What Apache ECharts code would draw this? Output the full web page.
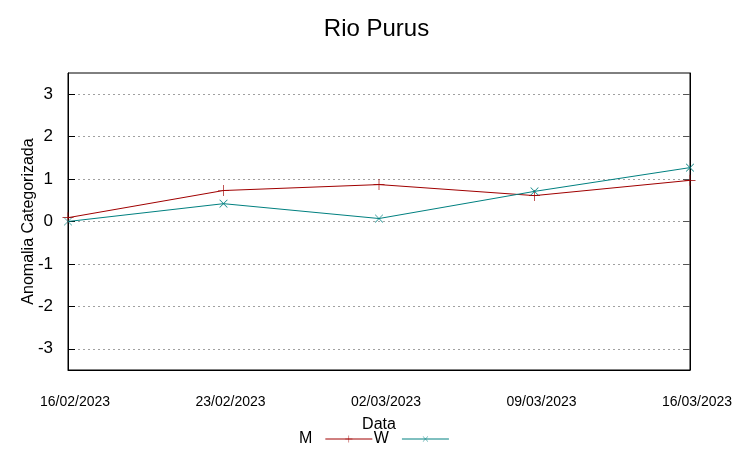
<!DOCTYPE html>
<html><head><meta charset="utf-8">
<script src="https://cdn.jsdelivr.net/npm/echarts@6/dist/echarts.min.js"></script>
<style>html,body{margin:0;padding:0;background:#fff}#c{width:753px;height:459px}</style>
</head><body><div id="c"></div>
<script>
const categories = ['16/02/2023','23/02/2023','02/03/2023','09/03/2023','16/03/2023'];
const seriesM = [0.09, 0.73, 0.87, 0.61, 0.97];
const seriesW = [0.0, 0.42, 0.07, 0.71, 1.27];
const yTicks = [-3,-2,-1,0,1,2,3];
const title = 'Rio Purus';
const xName = 'Data';
const yName = 'Anomalia Categorizada';

const plus = 'path://M-0.6,-10H0.6V10H-0.6Z M-10,-0.6H10V0.6H-10Z';
const font = 'Liberation Sans, Arial, sans-serif';
const chart = echarts.init(document.getElementById('c'));
chart.setOption({
  animation: false,
  backgroundColor: '#fff',
  title: {text: title, left: 'center', top: 12, textStyle: {fontFamily: font, fontWeight: 'normal', fontSize: 24, color: '#000'}},
  grid: {left: 68, right: 63, top: 73, bottom: 89, show: true, borderColor: '#000', borderWidth: 1},
  legend: {left: 294, top: 426, align: 'right', itemWidth: 47, itemHeight: 9, itemGap: 1,
    lineStyle: {width: 1},
    textStyle: {fontFamily: font, fontSize: 16, color: '#000', padding: [0,8,0,0]},
    data: [{name: 'M'}, {name: 'W'}]},
  xAxis: {type: 'category', data: categories, boundaryGap: false,
    name: xName, nameLocation: 'middle', nameGap: 47,
    nameTextStyle: {fontFamily: font, fontSize: 16, color: '#000'},
    axisLine: {show: true, onZero: false, lineStyle: {color: '#000'}},
    axisTick: {show: false},
    axisLabel: {margin: 25, fontFamily: font, fontSize: 14, color: '#000', padding: [0,0,0,14]},
    splitLine: {show: false}},
  yAxis: [{type: 'value', min: -3.5, max: 3.5,
    name: yName, nameLocation: 'middle', nameGap: 31, nameMoveOverlap: false,
    nameTextStyle: {fontFamily: font, fontSize: 16, color: '#000'},
    axisLine: {show: true, lineStyle: {color: '#000'}},
    axisTick: {show: true, inside: true, length: 7, lineStyle: {color: '#000'}, customValues: yTicks},
    axisLabel: {fontFamily: font, fontSize: 17, color: '#000', margin: 15, customValues: yTicks},
    splitLine: {show: true, lineStyle: {color: '#a0a0a0', type: [2,3], width: 1}},
    interval: 1},
   {type: 'value', min: -3.5, max: 3.5, position: 'right',
    axisLine: {show: true, lineStyle: {color: '#000'}},
    axisTick: {show: true, inside: true, length: 7, lineStyle: {color: '#555'}, customValues: yTicks},
    axisLabel: {show: false}, splitLine: {show: false}}],
  series: [
    {name: 'M', type: 'line', data: seriesM, symbol: plus, symbolSize: 11,
     lineStyle: {color: '#a00000', width: 1}, itemStyle: {color: '#a00000'}},
    {name: 'W', type: 'line', data: seriesW, symbol: plus, symbolSize: 11, symbolRotate: 45,
     lineStyle: {color: '#008080', width: 1}, itemStyle: {color: '#008080'}}
  ]
});
</script></body></html>
